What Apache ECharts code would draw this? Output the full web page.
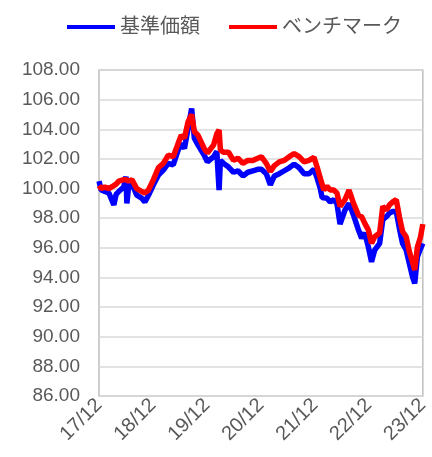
<!DOCTYPE html>
<html lang="ja">
<head>
    <meta charset="UTF-8">
    <title>基準価額とベンチマーク</title>
    <script src="https://cdn.jsdelivr.net/npm/echarts@6/dist/echarts.min.js"></script>
    <style>
        html, body { margin: 0; padding: 0; background: #fff; }
    </style>
</head>
<body>
<div id="my" style="width: 432px;height: 457px;"></div>
<script>
    // 横軸は 2017/12 からの経過月数
    var months = [
        0, 0.5, 1.3, 2.2, 3.3, 3.8, 4.4, 5.5, 6.0, 6.2, 6.6, 7.3, 8.4, 9.5, 10.2, 11,
        12.1, 13.2, 14.3, 15.4, 16.5, 17.6, 18.3, 19, 19.8, 20.6, 21.2, 22, 22.7, 23.4,
        24.1, 25.5, 26.2, 26.7, 27.0, 27.7, 28.8, 29.9, 30.9, 32, 33.1, 34.2, 35.3,
        36.1, 37.2, 38.1, 39, 40.1, 41.2, 42.3, 43.4, 44.5, 45.6, 46.7, 47.8,
        48.5, 49.2, 49.6, 50, 50.7, 51.4, 52.2, 52.9, 53.6, 54.7, 55.6, 56.6, 57.7,
        58.4, 59.1, 59.9, 60.6, 61.3, 62.4, 63.1, 63.9, 64.6, 65.3, 66.1, 66.8,
        67.5, 68.3, 69, 69.7, 70.2, 70.8, 71.5, 72
    ]
    // 基準価額
    var navValues = [
        100.5, 99.9, 99.8, 99.7, 98.9, 99.6, 99.8, 100.1, 100.8, 99.0, 100.2, 100.35, 99.55, 99.35, 99.1, 99.55,
        100.25, 100.9, 101.25, 101.7, 101.6, 102.6, 103.05, 102.7, 104.05, 105.4, 103.4, 102.95, 102.6, 102.25,
        101.8, 102.15, 102.5, 99.9, 101.9, 101.7, 101.45, 101.1, 101.2, 100.85, 101.1, 101.2, 101.3,
        101.3, 101.0, 100.25, 100.85, 101.0, 101.2, 101.4, 101.65, 101.4, 101.0, 101.0, 101.3,
        100.7, 100.0, 99.4, 99.45, 99.35, 99.1, 99.25, 99.0, 97.6, 98.55, 99.0, 98.2, 97.2,
        96.65, 97.0, 96.05, 95.05, 95.85, 96.3, 97.9, 98.1, 98.35, 98.45, 98.45, 97.3,
        96.3, 95.85, 94.95, 94.05, 93.6, 95.4, 95.95, 96.3
    ]
    // ベンチマーク
    var bmValues = [
        100.2, 100.0, 100.1, 100.0, 100.2, 100.3, 100.5, 100.6, 100.6, 100.5, 100.5, 100.6, 100.0, 99.8, 99.7, 99.9,
        100.6, 101.4, 101.7, 102.25, 102.15, 103.05, 103.6, 103.4, 104.5, 105.0, 103.85, 103.6, 103.15, 102.7,
        102.4, 102.95, 103.7, 103.95, 102.6, 102.45, 102.45, 101.9, 102.05, 101.7, 101.9, 101.9, 102.05,
        102.15, 101.7, 101.15, 101.55, 101.8, 101.9, 102.15, 102.35, 102.15, 101.8, 101.9, 102.1,
        101.45, 100.7, 100.3, 99.9, 100.15, 99.9, 99.9, 99.7, 98.8, 99.25, 99.9, 99.0, 98.2,
        98.1, 97.65, 97.2, 96.3, 96.75, 97.0, 98.8, 98.55, 98.9, 99.1, 99.25, 98.1,
        97.1, 96.75, 95.75, 95.05, 94.5, 96.05, 96.75, 97.6
    ]
    var seriesNames = ['基準価額', 'ベンチマーク']

    var font = 'Liberation Sans, Arial, Noto Sans CJK JP, sans-serif'
    var mCharts = echarts.init(document.getElementById('my'))
    var option = {
        animation: false,
        legend: {
            data: seriesNames,
            left: 62,
            top: 12,
            icon: 'rect',
            itemWidth: 48,
            itemHeight: 4,
            itemGap: 29,
            textStyle: { fontFamily: font, fontSize: 20, color: '#595959' }
        },
        grid: {
            left: 99,
            right: 5,
            top: 70,
            bottom: 61,
            show: true,
            borderColor: '#bfbfbf',
            borderWidth: 1.5
        },
        xAxis: {
            type: 'value',
            min: 0,
            max: 72,
            interval: 12,
            axisLine: { show: false },
            axisTick: { show: false },
            splitLine: { show: false },
            axisLabel: {
                rotate: 45,
                margin: 6,
                fontFamily: font,
                fontSize: 20,
                color: '#595959',
                formatter: function (v) { return (17 + v / 12) + '/12' }
            }
        },
        yAxis: {
            type: 'value',
            min: 86,
            max: 108,
            interval: 2,
            axisLine: { show: false },
            axisTick: { show: false },
            splitLine: { lineStyle: { color: '#d9d9d9', width: 1.5 } },
            axisLabel: {
                margin: 19,
                fontFamily: font,
                fontSize: 19,
                color: '#595959',
                formatter: function (v) { return v.toFixed(2) }
            }
        },
        series: [
            {
                name: seriesNames[0],
                type: 'line',
                showSymbol: false,
                data: months.map(function (m, i) { return [m, navValues[i]] }),
                lineStyle: { color: '#0000ff', width: 5.5 },
                itemStyle: { color: '#0000ff' }
            },
            {
                name: seriesNames[1],
                type: 'line',
                showSymbol: false,
                data: months.map(function (m, i) { return [m, bmValues[i]] }),
                lineStyle: { color: '#ff0000', width: 5.5 },
                itemStyle: { color: '#ff0000' }
            }
        ]
    }
    mCharts.setOption(option)
</script>
</body>
</html>
